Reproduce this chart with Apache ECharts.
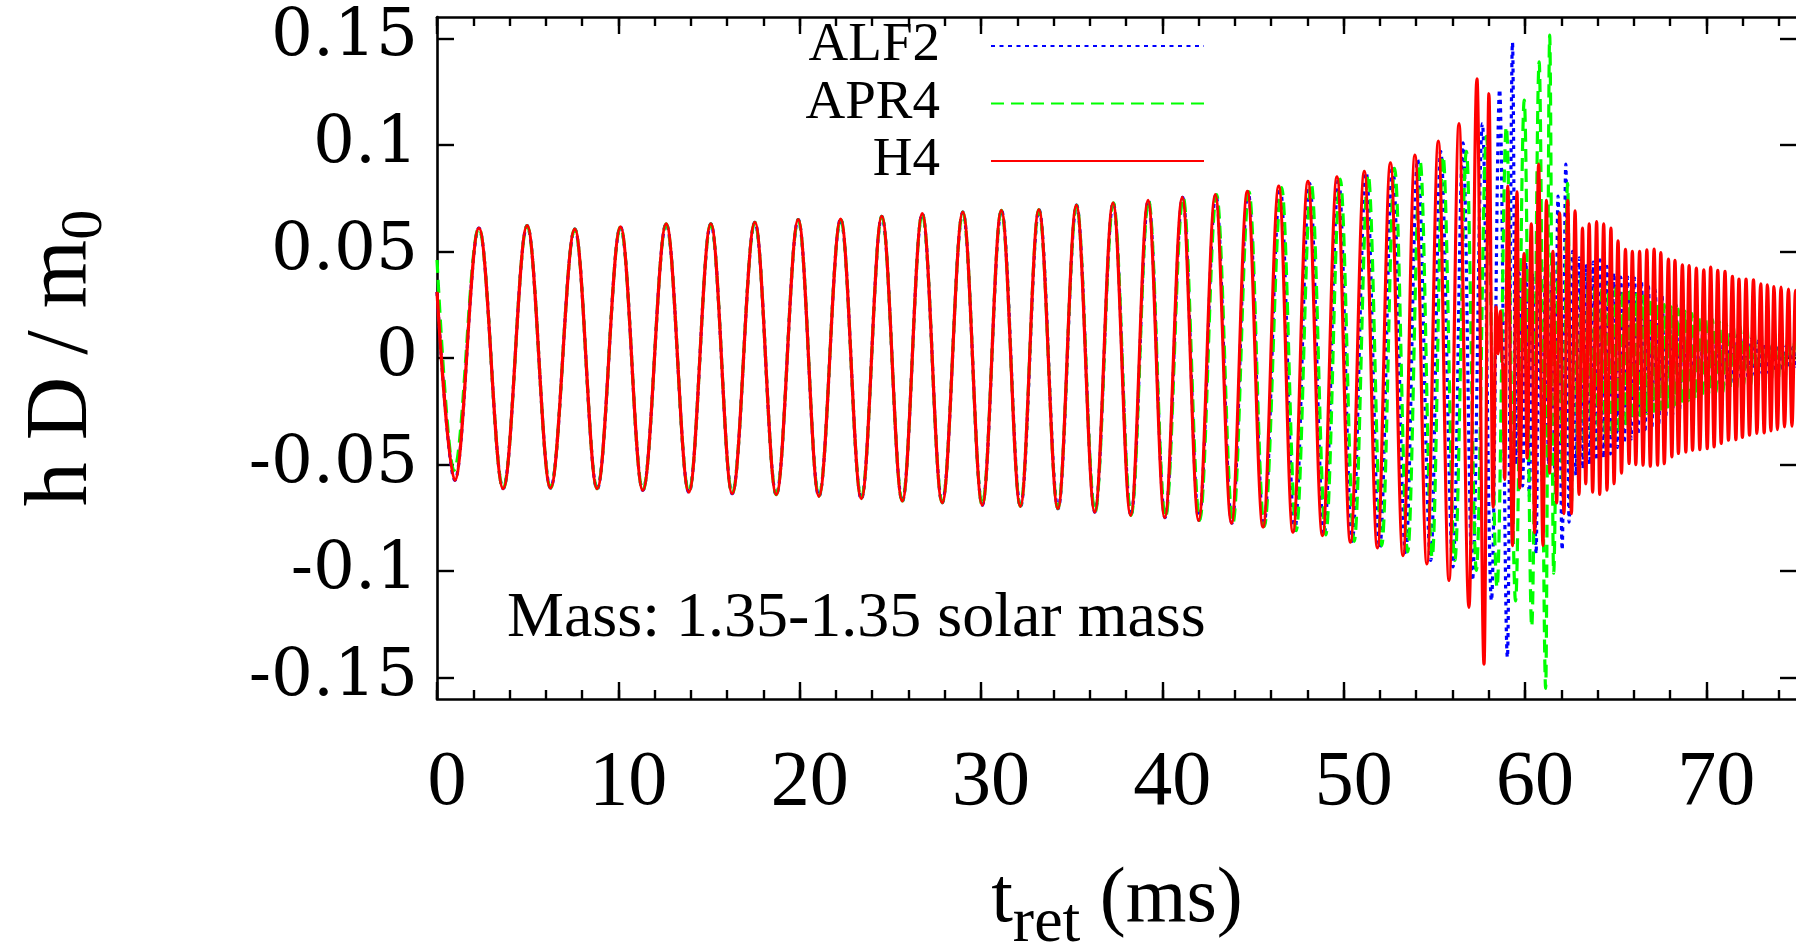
<!DOCTYPE html>
<html>
<head>
<meta charset="utf-8">
<script src="https://cdn.jsdelivr.net/npm/echarts@6/dist/echarts.min.js"></script>
<style>
html,body{margin:0;padding:0;background:#ffffff;}
#chart{width:1796px;height:947px;}
</style>
</head>
<body>
<div id="chart"></div>
<script>
// ---------------- data ----------------
const seriesNames = ['ALF2', 'APR4', 'H4'];
const seriesColors = ['#0000ff', '#00ff00', '#ff0000'];
const xMajorTicks = [0, 10, 20, 30, 40, 50, 60, 70];
const xMinorTicks = [0,2,4,6,8,10,12,14,16,18,20,22,24,26,28,30,32,34,36,38,40,42,44,46,48,50,52,54,56,58,60,62,64,66,68,70,72,74];
const yTicks = [-0.15, -0.1, -0.05, 0, 0.05, 0.1, 0.15];
const annotationText = 'Mass: 1.35-1.35 solar mass';

// [t_ret (ms), h D / m0] at the turning points of each waveform
const h4 = [[0.00,0.031],[0.98,-0.0574],[2.31,0.0610],[3.65,-0.0613],[4.97,0.0621],[6.26,-0.0610],[7.60,0.0605],[8.83,-0.0613],[10.12,0.0615],[11.35,-0.0621],[12.64,0.0629],[13.89,-0.0629],[15.10,0.0630],[16.28,-0.0637],[17.53,0.0637],[18.71,-0.0641],[19.92,0.0649],[21.06,-0.0649],[22.26,0.0652],[23.40,-0.0660],[24.53,0.0665],[25.66,-0.0671],[26.76,0.0677],[27.86,-0.0679],[29.00,0.0685],[30.07,-0.0691],[31.12,0.0693],[32.17,-0.0696],[33.19,0.0696],[34.24,-0.0707],[35.26,0.0717],[36.27,-0.0723],[37.28,0.0728],[38.25,-0.0738],[39.21,0.0740],[40.13,-0.0749],[41.10,0.0754],[42.00,-0.0762],[42.92,0.0767],[43.81,-0.0775],[44.69,0.0782],[45.55,-0.0793],[46.42,0.0806],[47.20,-0.0817],[48.03,0.0829],[48.83,-0.0833],[49.63,0.0850],[50.37,-0.0864],[51.14,0.0876],[51.86,-0.0891],[52.58,0.0916],[53.27,-0.0927],[53.93,0.0952],[54.59,-0.0966],[55.22,0.1018],[55.81,-0.1044],[56.36,0.1100],[56.91,-0.1170],[57.35,0.1310],[57.74,-0.1436],[58.01,0.1240],[58.24,-0.0700],[58.40,0.0240],[58.52,0.0020],[58.64,0.0220],[58.76,-0.0020],[58.88,-0.0570],[59.05,0.0806],[59.31,-0.0880],[59.56,0.0780],[59.71,-0.0610],[59.95,0.0490],[60.12,-0.0470],[60.35,0.0630],[60.53,-0.0820],[60.75,0.0910],[60.99,-0.0880],[61.18,0.0740],[61.36,-0.0540],[61.54,0.0500],[61.75,-0.0680],[61.91,0.0680],[62.15,-0.0730],[62.36,0.0740],[62.56,-0.0730],[62.76,0.0690],[62.98,-0.0640],[63.17,0.0610],[63.35,-0.0590],[63.54,0.0630],[63.73,-0.0630],[63.95,0.0640],[64.12,-0.0640],[64.34,0.0630],[64.52,-0.0620],[64.74,0.0610],[64.91,-0.0590],[65.13,0.0550],[65.32,-0.0540],[65.54,0.0510],[65.74,-0.0495],[65.92,0.0500],[66.11,-0.0500],[66.32,0.0500],[66.51,-0.0503],[66.72,0.0508],[66.91,-0.0508],[67.12,0.0511],[67.31,-0.0503],[67.49,0.0495],[67.68,-0.0496],[67.91,0.0464],[68.10,-0.0464],[68.27,0.0458],[68.46,-0.0448],[68.68,0.0437],[68.87,-0.0441],[69.05,0.0433],[69.24,-0.0433],[69.45,0.0422],[69.64,-0.0430],[69.86,0.0414],[70.05,-0.0425],[70.24,0.0427],[70.43,-0.0417],[70.63,0.0411],[70.82,-0.0401],[71.03,0.0406],[71.22,-0.0386],[71.44,0.0383],[71.63,-0.0383],[71.80,0.0370],[71.99,-0.0373],[72.19,0.0370],[72.38,-0.0362],[72.60,0.0367],[72.79,-0.0354],[73.00,0.0348],[73.19,-0.0351],[73.37,0.0343],[73.56,-0.0342],[73.73,0.0335],[73.92,-0.0336],[74.12,0.0333],[74.31,-0.0323],[74.53,0.0323],[74.72,-0.0320],[74.92,0.0317],[75.10,-0.0315]];

const alf2 = [[0.00,0.031],[0.98,-0.0574],[2.31,0.0610],[3.65,-0.0613],[4.97,0.0621],[6.26,-0.0610],[7.60,0.0605],[8.83,-0.0615],[10.12,0.0615],[11.35,-0.0621],[12.64,0.0629],[13.89,-0.0631],[15.10,0.0630],[16.28,-0.0637],[17.53,0.0637],[18.71,-0.0641],[19.92,0.0649],[21.06,-0.0649],[22.26,0.0652],[23.40,-0.0662],[24.53,0.0665],[25.66,-0.0672],[26.76,0.0677],[27.86,-0.0679],[29.00,0.0685],[30.07,-0.0691],[31.13,0.0693],[32.18,-0.0698],[33.20,0.0696],[34.25,-0.0707],[35.27,0.0717],[36.28,-0.0723],[37.29,0.0728],[38.27,-0.0738],[39.23,0.0740],[40.15,-0.0749],[41.12,0.0754],[42.02,-0.0762],[42.95,0.0767],[43.84,-0.0775],[44.73,0.0780],[45.59,-0.0790],[46.50,0.0800],[47.30,-0.0810],[48.12,0.0820],[48.92,-0.0830],[49.72,0.0840],[50.47,-0.0860],[51.24,0.0870],[51.99,-0.0890],[52.70,0.0900],[53.42,-0.0920],[54.08,0.0930],[54.80,-0.0950],[55.35,0.0970],[56.03,-0.0980],[56.58,0.1010],[57.10,-0.1044],[57.65,0.1100],[58.15,-0.1138],[58.60,0.1260],[59.03,-0.1405],[59.31,0.1480],[59.50,-0.0500],[59.68,0.0400],[59.87,-0.0600],[60.05,0.0450],[60.24,-0.0650],[60.42,0.0400],[60.61,-0.0920],[60.78,0.0500],[60.96,-0.0580],[61.13,0.0450],[61.30,-0.0500],[61.47,0.0400],[61.65,-0.0550],[61.82,0.0760],[62.05,-0.0900],[62.25,0.0910],[62.43,-0.0770],[62.62,0.0500],[62.81,-0.0550],[63.00,0.0470],[63.19,-0.0520],[63.38,0.0440],[63.57,-0.0500],[63.76,0.0450],[63.95,-0.0480],[64.14,0.0460],[64.33,-0.0470],[64.52,0.0430],[64.71,-0.0450],[64.90,0.0400],[65.09,-0.0420],[65.28,0.0380],[65.47,-0.0400],[65.66,0.0380],[65.85,-0.0380],[66.04,0.0375],[66.23,-0.0360],[66.42,0.0360],[66.61,-0.0350],[66.80,0.0340],[66.99,-0.0330],[67.18,0.0320],[67.37,-0.0310],[67.56,0.0290],[67.75,-0.0290],[67.94,0.0270],[68.13,-0.0270],[68.32,0.0250],[68.51,-0.0250],[68.70,0.0230],[68.89,-0.0230],[69.08,0.0210],[69.27,-0.0210],[69.46,0.0200],[69.65,-0.0190],[69.84,0.0190],[70.03,-0.0180],[70.22,0.0170],[70.41,-0.0160],[70.60,0.0150],[70.79,-0.0150],[70.98,0.0140],[71.17,-0.0130],[71.36,0.0120],[71.55,-0.0120],[71.74,0.0110],[71.93,-0.0100],[72.12,0.0100],[72.31,-0.0090],[72.50,0.0090],[72.69,-0.0080],[72.88,0.0080],[73.07,-0.0070],[73.26,0.0070],[73.45,-0.0070],[73.64,0.0060],[73.83,-0.0060],[74.02,0.0060],[74.21,-0.0050],[74.40,0.0055],[74.59,-0.0050],[74.78,0.0050],[74.97,-0.0050],[75.16,0.0045]];

const apr4 = [[0.00,0.046],[0.93,-0.0527],[2.31,0.0610],[3.65,-0.0613],[4.97,0.0621],[6.26,-0.0610],[7.60,0.0605],[8.83,-0.0613],[10.12,0.0615],[11.35,-0.0621],[12.64,0.0629],[13.89,-0.0629],[15.10,0.0630],[16.28,-0.0637],[17.53,0.0637],[18.71,-0.0641],[19.92,0.0649],[21.06,-0.0649],[22.26,0.0652],[23.40,-0.0660],[24.53,0.0665],[25.66,-0.0671],[26.76,0.0677],[27.86,-0.0679],[29.00,0.0685],[30.07,-0.0691],[31.12,0.0693],[32.17,-0.0696],[33.19,0.0696],[34.24,-0.0707],[35.27,0.0717],[36.29,-0.0723],[37.30,0.0728],[38.28,-0.0738],[39.24,0.0740],[40.17,-0.0749],[41.15,0.0754],[42.06,-0.0762],[42.99,0.0767],[43.89,-0.0775],[44.78,0.0780],[45.62,-0.0790],[46.58,0.0800],[47.38,-0.0810],[48.21,0.0820],[49.01,-0.0830],[49.81,0.0840],[50.58,-0.0860],[51.35,0.0860],[52.10,-0.0880],[52.81,0.0890],[53.53,-0.0910],[54.22,0.0920],[54.88,-0.0935],[55.48,0.0947],[56.13,-0.0950],[56.77,0.0970],[57.32,-0.0997],[57.87,0.1040],[58.46,-0.1076],[58.97,0.1085],[59.48,-0.1140],[59.96,0.1210],[60.37,-0.1260],[60.78,0.1390],[61.14,-0.1550],[61.36,0.1515],[61.58,-0.1010],[61.84,0.0450],[62.09,-0.0580],[62.35,0.0820],[62.55,-0.0700],[62.74,0.0500],[62.93,-0.0500],[63.12,0.0420],[63.31,-0.0460],[63.50,0.0400],[63.69,-0.0440],[63.88,0.0380],[64.07,-0.0420],[64.26,0.0360],[64.45,-0.0400],[64.64,0.0350],[64.83,-0.0380],[65.02,0.0330],[65.21,-0.0350],[65.40,0.0320],[65.59,-0.0320],[65.78,0.0310],[65.97,-0.0290],[66.16,0.0300],[66.35,-0.0270],[66.54,0.0290],[66.73,-0.0260],[66.92,0.0280],[67.11,-0.0250],[67.30,0.0260],[67.49,-0.0240],[67.68,0.0250],[67.87,-0.0230],[68.06,0.0240],[68.25,-0.0220],[68.44,0.0230],[68.63,-0.0210],[68.82,0.0220],[69.01,-0.0200],[69.20,0.0210],[69.39,-0.0190],[69.58,0.0200],[69.77,-0.0180],[69.96,0.0190],[70.15,-0.0170],[70.34,0.0180],[70.53,-0.0160],[70.72,0.0170],[70.91,-0.0160],[71.10,0.0160],[71.29,-0.0150],[71.48,0.0150],[71.67,-0.0140],[71.86,0.0150],[72.05,-0.0130],[72.24,0.0140],[72.43,-0.0130],[72.62,0.0130],[72.81,-0.0120],[73.00,0.0130],[73.19,-0.0120],[73.38,0.0120],[73.57,-0.0110],[73.76,0.0120],[73.95,-0.0110],[74.14,0.0110],[74.33,-0.0100],[74.52,0.0110],[74.71,-0.0100],[74.90,0.0100],[75.09,-0.0100]];

// ---------------- chart ----------------
const SERIF = '"Liberation Serif", "Times New Roman", serif';
const BLACK = '#000000';
const chart = echarts.init(document.getElementById('chart'), null, {renderer: 'canvas'});

function xAxisDef(position, ticks, tickLen, withLabels, withLine) {
  return {
    type: 'value', min: 0, max: 75, position: position, gridIndex: 0,
    axisLine: {show: withLine, onZero: false, lineStyle: {color: BLACK, width: 2.6}},
    axisTick: {show: true, inside: true, length: tickLen, customValues: ticks, lineStyle: {color: BLACK, width: 2.4}},
    axisLabel: {show: withLabels, customValues: ticks, margin: 46, color: BLACK, fontFamily: SERIF, fontSize: 78,
      padding: [0, 0, 0, 20]},
    splitLine: {show: false}
  };
}
function yAxisDef(position, withLabels) {
  return {
    type: 'value', min: -0.16, max: 0.16, position: position, gridIndex: 0,
    axisLine: {show: true, onZero: false, lineStyle: {color: BLACK, width: 2.6}},
    axisTick: {show: true, inside: true, length: 17, customValues: yTicks, lineStyle: {color: BLACK, width: 2.4}},
    axisLabel: {show: withLabels, customValues: yTicks, margin: 19, color: BLACK,
      fontFamily: '"DejaVu Serif", serif', fontSize: 66,
      formatter: function (v) { return String(Math.round(v * 100) / 100); }},
    splitLine: {show: false}
  };
}

const xBottom = xAxisDef('bottom', xMajorTicks, 17, true, true);
xBottom.name = '{a|t}{s|ret}{a| (ms)}';
xBottom.nameLocation = 'middle';
xBottom.nameGap = 163;
xBottom.nameTextStyle = {
  fontFamily: SERIF, color: BLACK,
  rich: {
    a: {fontFamily: SERIF, fontSize: 78, lineHeight: 78, color: BLACK},
    s: {fontFamily: SERIF, fontSize: 64, lineHeight: 64, color: BLACK, padding: [46, 0, 0, 0]}
  }
};
const yLeft = yAxisDef('left', true);
yLeft.name = '{a|h D / m}{s|0}';
yLeft.nameLocation = 'middle';
yLeft.nameRotate = 90;
yLeft.nameGap = 330;
yLeft.nameTextStyle = {
  fontFamily: SERIF, color: BLACK,
  rich: {
    a: {fontFamily: SERIF, fontSize: 88, lineHeight: 88, color: BLACK},
    s: {fontFamily: SERIF, fontSize: 60, lineHeight: 60, color: BLACK, padding: [44, 0, 0, 0]}
  }
};

const dashes = [[4, 4.5], [13, 7], null];
const datasets = [alf2, apr4, h4];

const option = {
  animation: false,
  backgroundColor: '#ffffff',
  grid: {left: 437, top: 17, width: 1360, height: 682, containLabel: false, outerBoundsMode: 'none'},
  xAxis: [
    xBottom,
    xAxisDef('bottom', xMinorTicks, 9, false, false),
    xAxisDef('top', xMajorTicks, 17, false, true),
    xAxisDef('top', xMinorTicks, 9, false, false)
  ],
  yAxis: [yLeft, yAxisDef('right', false)],
  legend: {
    data: seriesNames, orient: 'vertical', align: 'right', right: 591, top: 17.5, padding: 0,
    itemWidth: 213, itemHeight: 20, itemGap: 0.5, selectedMode: false,
    itemStyle: {opacity: 0, borderWidth: 0},
    lineStyle: {opacity: 1},
    textStyle: {fontFamily: SERIF, fontSize: 55, lineHeight: 57, color: BLACK, padding: [0, 46, 0, 0]}
  },
  graphic: [{
    type: 'text', x: 507, y: 619, silent: true,
    style: {text: annotationText, fontFamily: SERIF, fontSize: 64, fill: BLACK, align: 'left', verticalAlign: 'middle'}
  }],
  series: seriesNames.map(function (name, i) {
    return {
      name: name, type: 'line', xAxisIndex: 0, yAxisIndex: 0,
      data: datasets[i], symbol: 'none', showSymbol: false,
      smooth: 0.36, smoothMonotone: 'x', clip: true,
      lineStyle: {color: seriesColors[i], width: 3.2, type: dashes[i] || 'solid', cap: 'butt'},
      itemStyle: {color: seriesColors[i]},
      emphasis: {disabled: true}
    };
  })
};
chart.setOption(option);
</script>
</body>
</html>
